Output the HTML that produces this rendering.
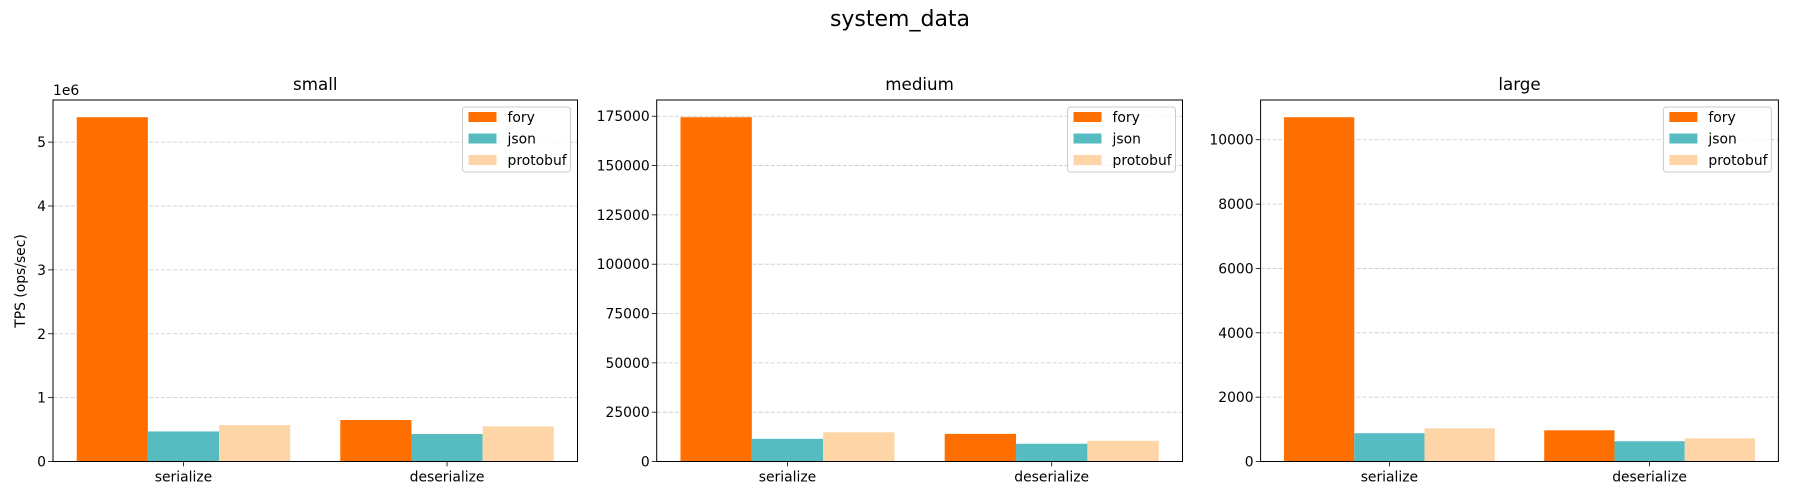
<!DOCTYPE html>
<html><head><meta charset="utf-8"><style>
body{margin:0;background:#fff}
svg{display:block;font-family:"DejaVu Sans","Liberation Sans",sans-serif}
</style></head><body>
<svg id="chart" width="1800" height="500" viewBox="0 0 1800 500" xmlns="http://www.w3.org/2000/svg">
<rect width="1800" height="500" fill="#fff"/>
<text x="900" y="26" font-size="22" text-anchor="middle">system_data</text>
</svg>
<script>
const categories = ["serialize", "deserialize"];
const seriesNames = ["fory", "json", "protobuf"];
const seriesColors = ["#ff6f00", "#56bcc1", "#fdd5a6"];
const panelTitles = ["small", "medium", "large"];
const smallValues = [[5390000, 650000], [470000, 430000], [570000, 550000]];
const mediumValues = [[174500, 14000], [11500, 9000], [14800, 10500]];
const largeValues = [[10700, 970], [880, 630], [1030, 720]];
const smallTicks = [0, 1, 2, 3, 4, 5];
const mediumTicks = [0, 25000, 50000, 75000, 100000, 125000, 150000, 175000];
const largeTicks = [0, 2000, 4000, 6000, 8000, 10000];
const tickScale = [1e6, 1, 1];

const NS = "http://www.w3.org/2000/svg";
const svg = document.getElementById("chart");
function mk(tag, attrs, parent) {
  const e = document.createElementNS(NS, tag);
  for (const k in attrs) e.setAttribute(k, attrs[k]);
  (parent || svg).appendChild(e);
  return e;
}
const panels = [
  {L: 53, R: 577.5, vals: smallValues, ticks: smallTicks},
  {L: 656.7, R: 1182.5, vals: mediumValues, ticks: mediumTicks},
  {L: 1260.6, R: 1778.4, vals: largeValues, ticks: largeTicks}
];
const T = 100, B = 461.5, W = 0.27;
panels.forEach((p, pi) => {
  const g = mk("g", {});
  
  
  let maxV = 0;
  p.vals.forEach(s => s.forEach(v => { if (v > maxV) maxV = v; }));
  const ymax = maxV * 1.05;
  const y = v => B - (v / ymax) * (B - T);
  const x = v => p.L + (v + 0.495) / 1.99 * (p.R - p.L);
  p.ticks.forEach(t => {
    const v = t * tickScale[pi];
    if (v > ymax) return;
    const yy = y(v);
    const gl = mk("line", {x1: p.L, x2: p.R, y1: yy, y2: yy, stroke: "#b0b0b0", "stroke-opacity": 0.7, "stroke-dasharray": "4,2", "stroke-width": 0.8}, g);
    
    
    mk("line", {x1: p.L - 4.9, x2: p.L, y1: yy, y2: yy, stroke: "#000", "stroke-width": 0.8}, g);
    const tl = mk("text", {x: p.L - 7, y: yy + 5, "font-size": 13.9, "text-anchor": "end"}, g);
    tl.textContent = String(t);
    
    
  });
  seriesNames.forEach((s, si) => {
    categories.forEach((c, ci) => {
      const x0 = x(ci + (si - 1) * W - W / 2), x1 = x(ci + (si - 1) * W + W / 2);
      const r = mk("rect", {x: x0, y: y(p.vals[si][ci]), width: x1 - x0, height: B - y(p.vals[si][ci]), fill: seriesColors[si]}, g);
      
      
    });
  });
  categories.forEach((c, ci) => {
    const xx = x(ci);
    mk("line", {x1: xx, x2: xx, y1: B, y2: B + 4.9, stroke: "#000", "stroke-width": 0.8}, g);
    const tl = mk("text", {x: xx, y: B + 20, "font-size": 13.9, "text-anchor": "middle"}, g);
    tl.textContent = c;
    
    
  });
  const fr = mk("rect", {x: p.L, y: T, width: p.R - p.L, height: B - T, fill: "none", stroke: "#000", "stroke-width": 1}, g);
  
  
  const tt = mk("text", {x: (p.L + p.R) / 2, y: 90, "font-size": 16.7, "text-anchor": "middle"}, g);
  tt.textContent = panelTitles[pi];
  
  
  const lg = mk("g", {}, g);
  
  
  const lw = 108, lx = p.R - 7 - lw;
  mk("rect", {x: lx, y: 107, width: lw, height: 65, rx: 3, fill: "#fff", "fill-opacity": 0.8, stroke: "#ccc"}, lg);
  seriesNames.forEach((s, si) => {
    const ly = 112 + si * 21.5;
    mk("rect", {x: lx + 6, y: ly, width: 28, height: 10, fill: seriesColors[si]}, lg);
    const t = mk("text", {x: lx + 45, y: ly + 10, "font-size": 13.9}, lg);
    t.textContent = s;
    
    
  });
});
const off = mk("text", {x: 53, y: 95, "font-size": 13.9});
off.textContent = "1e6";


const yt = mk("text", {x: 0, y: 0, "font-size": 13.9, "text-anchor": "middle", transform: "translate(25,281) rotate(-90)"});
yt.textContent = "TPS (ops/sec)";


</script>
</body></html>
